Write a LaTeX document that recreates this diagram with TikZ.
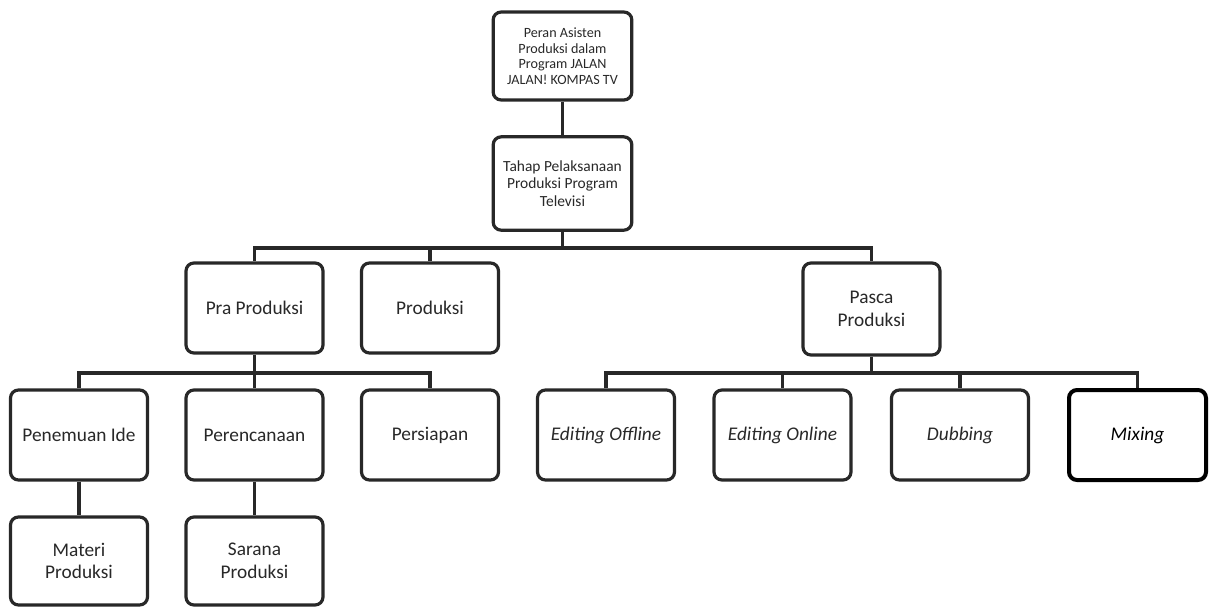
\documentclass[tikz,border=0pt]{standalone}
\usepackage{fontspec}
\setmainfont{Carlito}
\definecolor{inkgray}{RGB}{40,40,40}
\tikzset{every picture/.style={line width=0.75pt}}
\tikzset{
  box/.style={draw=inkgray, line width=2.4pt, rounded corners=6pt, minimum width=102.75pt, minimum height=67.5pt, align=center, text=inkgray, inner sep=2pt, font=\fontsize{14.5}{17}\selectfont},
  link/.style={draw=inkgray, line width=2.4pt},
}

\begin{document}
\begin{tikzpicture}[x=0.75pt,y=0.75pt,yscale=-1,xscale=1]
\useasboundingbox (0,0) rectangle (1214,607);

% Text Node
\node [box, minimum width=104pt, minimum height=66pt, font=\fontsize{10.6}{11.6}\selectfont] (peran) at (562.5,56) {Peran Asisten\\Produksi dalam\\Program JALAN\\JALAN! KOMPAS TV};
% Text Node
\node [box, minimum width=104pt, minimum height=70pt, font=\fontsize{11.6}{13}\selectfont] (tahap) at (562.5,183.5) {Tahap Pelaksanaan\\Produksi Program\\Televisi};
% Text Node
\node [box] (pra) at (254.5,308) {Pra Produksi};
\node [box] (produksi) at (430,308) {Produksi};
\node [box, minimum height=69pt] (pasca) at (871.5,309) {Pasca\\Produksi};
% Text Node
\node [box] (ide) at (79,435) {Penemuan Ide};
\node [box] (rencana) at (254.5,435) {Perencanaan};
\node [box] (siap) at (430,435) {Persiapan};
\node [box] (offline) at (606,435) {\itshape Editing Offline};
\node [box] (online) at (782.5,435) {\itshape Editing Online};
\node [box] (dubbing) at (960,435) {\itshape Dubbing};
\node [box, draw=black, line width=3pt, text=black] (mixing) at (1137.5,435) {\itshape Mixing};
% Text Node
\node [box, minimum height=66pt] (materi) at (79,561) {Materi\\Produksi};
\node [box, minimum height=66pt] (sarana) at (254.5,561) {Sarana\\Produksi};

% Connection
\coordinate (busA) at (562.5,248);
\coordinate (busB) at (254.5,373);
\coordinate (busC) at (871.5,373);
\draw [link] (peran) -- (tahap);
\draw [link] (tahap) -- (busA);
\draw [link] (pra.north) |- (busA) -| (pasca.north);
\draw [link] (produksi.north) -- (produksi.north |- busA);
% Connection
\draw [link] (pra) -- (busB);
\draw [link] (ide.north) |- (busB) -| (siap.north);
\draw [link] (rencana.north) -- (rencana.north |- busB);
% Connection
\draw [link] (pasca) -- (busC);
\draw [link] (offline.north) |- (busC);
\draw [link] (online.north) -- (online.north |- busC);
\draw [link] (dubbing.north) -- (dubbing.north |- busC);
\draw [link] (busC) -| (mixing.north);
% Connection
\draw [link] (ide) -- (materi);
\draw [link] (rencana) -- (sarana);

\end{tikzpicture}
\end{document}
